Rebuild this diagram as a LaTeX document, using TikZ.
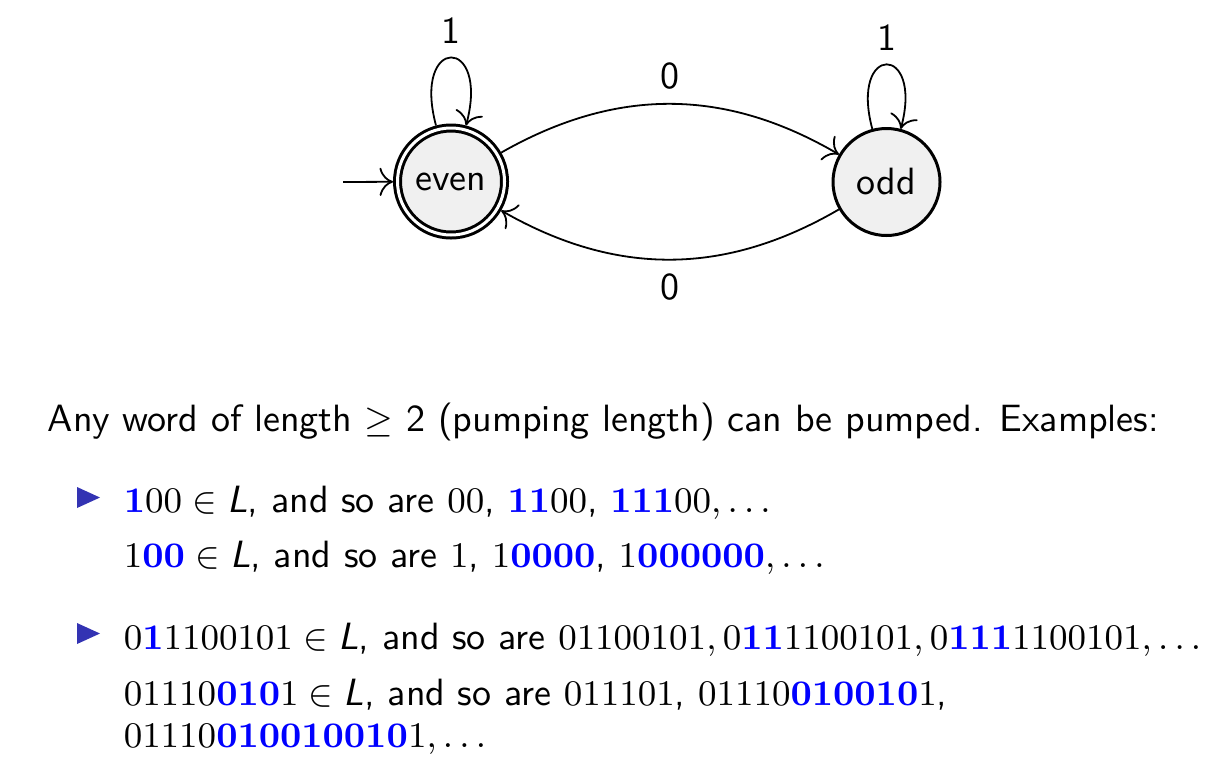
\documentclass[tikz,border=0pt]{standalone}
\usetikzlibrary{arrows.meta}
\definecolor{statefill}{RGB}{240,240,240}
\definecolor{hiblue}{RGB}{0,0,255}
\definecolor{structblue}{RGB}{51,51,179}
\newcommand{\hb}[1]{\textcolor{hiblue}{\mathbf{#1}}}
\newcommand{\Lang}{\textsf{\textit{L}}}
\begin{document}
\begin{tikzpicture}[x=0.25pt,y=-0.25pt,
  font=\sffamily\fontsize{9.5pt}{11pt}\selectfont,
  >={To[scale=1.3]},
  statebox/.style={circle, draw, fill=statefill, line width=0.75pt,
    minimum size=26.75pt, inner sep=0pt, outer sep=0.375pt},
  acceptbox/.style={statebox, double, double distance=0.75pt, outer sep=1.125pt},
  trans/.style={->, line width=0.45pt},
  textline/.style={anchor=base west, inner sep=0pt},
  bullettri/.style={fill=structblue}
]
\path[use as bounding box] (0,0) rectangle (1228,783);

\node[acceptbox] (even) at (451,181.5) {even};
\node[statebox] (odd) at (886.5,182) {odd};
\coordinate (start) at (343,182);

\draw[trans] (start) -- (even);
\draw[trans] (even) edge[loop, out=105, in=75, min distance=22pt, looseness=8] node[above] (l1) {1} (even);
\draw[trans] (odd) edge[loop, out=105, in=75, min distance=22pt, looseness=8] node[above] (l2) {1} (odd);
\draw[trans] (even) edge[bend left=30] node[above] (l3) {0} (odd);
\draw[trans] (odd) edge[bend left=30] node[below] (l4) {0} (even);

\node[textline] (t1) at (47,431) {Any word of length $\geq$ 2 (pumping length) can be pumped. Examples:};

\fill[bullettri] (77,487) -- (77,508) -- (100,497.5) -- cycle;
\node[textline] (t2) at (123,512) {$\hb{1}00 \in \Lang$, and so are $00$, $\hb{11}00$, $\hb{111}00, \ldots$};
\node[textline] (t3) at (123,567) {$1\hb{00} \in \Lang$, and so are $1$, $1\hb{0000}$, $1\hb{000000}, \ldots$};

\fill[bullettri] (77,623) -- (77,644) -- (100,633.5) -- cycle;
\node[textline] (t4) at (123,649) {$0\hb{1}1100101 \in \Lang$, and so are $01100101, 0\hb{11}1100101, 0\hb{111}1100101, \ldots$};
\node[textline] (t5) at (123,705) {$01110\hb{010}1 \in \Lang$, and so are $011101$, $01110\hb{010010}1$,};
\node[textline] (t6) at (123,747) {$01110\hb{010010010}1, \ldots$};
\end{tikzpicture}
\end{document}
